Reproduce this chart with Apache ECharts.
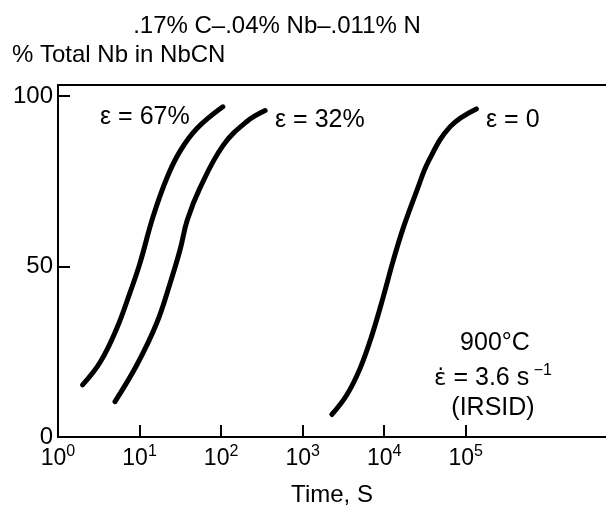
<!DOCTYPE html>
<html>
<head>
<meta charset="utf-8">
<script src="https://cdn.jsdelivr.net/npm/echarts@6/dist/echarts.min.js"></script>
<style>html,body{margin:0;padding:0;background:#fff}#c{width:606px;height:512px}</style>
</head>
<body>
<div id="c"></div>
<script>
// Data (time in s, % of total Nb in NbCN)
const title = '.17% C\u2013.04% Nb\u2013.011% N';
const yAxisTitle = '% Total Nb in NbCN';
const xAxisTitle = 'Time, S';
const yTickValues = [0, 50, 100];
const xTickExponents = [0, 1, 2, 3, 4, 5];

const seriesNames = ['\u03b5 = 67%', '\u03b5 = 32%', '\u03b5 = 0'];
const times67 = [2.0, 3.3, 5.25, 7.6, 10.1, 14.6, 21.7, 31.4, 50.8, 105];
const pct67   = [15.3, 22, 31.8, 42.2, 50.9, 64.5, 76, 83.8, 90.5, 96.8];
const times32 = [5.0, 9.25, 16.3, 23.7, 31.4, 38.5, 55.3, 106, 207, 347];
const pct32   = [10.4, 21.1, 33.5, 45.1, 54.9, 63.6, 73.1, 85.5, 92.5, 95.7];
const times0  = [2280, 3490, 5080, 7070, 9800, 13000, 17300, 25200, 35000, 64500, 135000];
const pct0    = [6.6, 12.4, 20.2, 29.8, 41.3, 52, 61.6, 72.3, 80.9, 91, 96.2];

const noteLines = ['900\u00b0C', ' = 3.6 s', '(IRSID)'];
const strainRateSymbol = '\u03b5\u0307';

const FONT = 'Liberation Sans, Arial, Helvetica, sans-serif';
const pairs = (t, p) => t.map((v, i) => [v, p[i]]);
const xTickValues = xTickExponents.map(e => Math.pow(10, e));

const chart = echarts.init(document.getElementById('c'), null, {renderer: 'canvas'});

const lineSeries = (name, data) => ({
  name, type: 'line', data, smooth: 0.4, showSymbol: false, symbol: 'none',
  lineStyle: {color: '#000', width: 5, cap: 'round'}, silent: true, clip: false
});

chart.setOption({
  animation: false,
  backgroundColor: '#fff',
  title: {
    text: title, left: 272, top: 9, textAlign: 'center',
    textStyle: {fontFamily: FONT, fontSize: 24, fontWeight: 'normal', color: '#000'}
  },
  grid: {left: 58, right: 0, top: 85, bottom: 69, containLabel: false},
  xAxis: [{
    type: 'log', logBase: 10, min: 1, max: 5.25e6,
    name: xAxisTitle, nameLocation: 'middle', nameGap: 46,
    nameTextStyle: {fontFamily: FONT, fontSize: 24, color: '#000'},
    axisLine: {show: true, lineStyle: {color: '#000', width: 2}},
    axisTick: {show: true, inside: true, length: 12, lineStyle: {color: '#000', width: 2},
               customValues: xTickValues.slice(1)},
    axisLabel: {
      customValues: xTickValues, margin: 7, color: '#000',
      formatter: v => '{b|10}{s|' + Math.round(Math.log10(v)) + '}',
      rich: {
        b: {fontFamily: FONT, fontSize: 23, color: '#000', verticalAlign: 'bottom', lineHeight: 26},
        s: {fontFamily: FONT, fontSize: 16, color: '#000', verticalAlign: 'top', lineHeight: 26}
      }
    },
    splitLine: {show: false}
  }, {
    type: 'value', position: 'top', min: 0, max: 1,
    axisLine: {show: true, lineStyle: {color: '#000', width: 2}},
    axisTick: {show: false}, axisLabel: {show: false}, splitLine: {show: false}
  }],
  yAxis: {
    type: 'value', min: 0, max: 103.2,
    name: yAxisTitle, nameLocation: 'end',
    axisLine: {show: true, lineStyle: {color: '#000', width: 2}},
    axisTick: {show: true, inside: true, length: 12, lineStyle: {color: '#000', width: 2},
               customValues: [50, 100]},
    axisLabel: {customValues: yTickValues, margin: 5, color: '#000',
                fontFamily: FONT, fontSize: 24},
    nameTextStyle: {fontFamily: FONT, fontSize: 24, color: '#000', align: 'left', padding: [0, 0, 2, -46]},
    nameGap: 16,
    splitLine: {show: false}
  },
  series: [
    lineSeries(seriesNames[0], pairs(times67, pct67)),
    lineSeries(seriesNames[1], pairs(times32, pct32)),
    lineSeries(seriesNames[2], pairs(times0, pct0))
  ],
  graphic: [
    {type: 'text', left: 100, top: 105, style: {text: seriesNames[0], font: '25px ' + FONT, fill: '#000'}},
    {type: 'text', left: 275, top: 108, style: {text: seriesNames[1], font: '25px ' + FONT, fill: '#000'}},
    {type: 'text', left: 486, top: 108, style: {text: seriesNames[2], font: '25px ' + FONT, fill: '#000'}},
    {type: 'text', x: 495, y: 343, style: {text: noteLines[0], font: '25px ' + FONT, fill: '#000', align: 'center', verticalAlign: 'middle'}},
    {type: 'text', x: 493, y: 377, style: {
      text: '{e|' + strainRateSymbol + '}{a|' + noteLines[1] + '}{s| \u22121}',
      align: 'center', verticalAlign: 'middle',
      rich: {e: {fontFamily: 'DejaVu Sans', fontSize: 23, fill: '#000', verticalAlign: 'bottom', lineHeight: 28},
             a: {fontFamily: FONT, fontSize: 25, fill: '#000', verticalAlign: 'bottom', lineHeight: 28},
             s: {fontFamily: FONT, fontSize: 16, fill: '#000', verticalAlign: 'top', lineHeight: 28}}
    }},
    {type: 'text', x: 493, y: 408, style: {text: noteLines[2], font: '25px ' + FONT, fill: '#000', align: 'center', verticalAlign: 'middle'}}
  ]
});
</script>
</body>
</html>
